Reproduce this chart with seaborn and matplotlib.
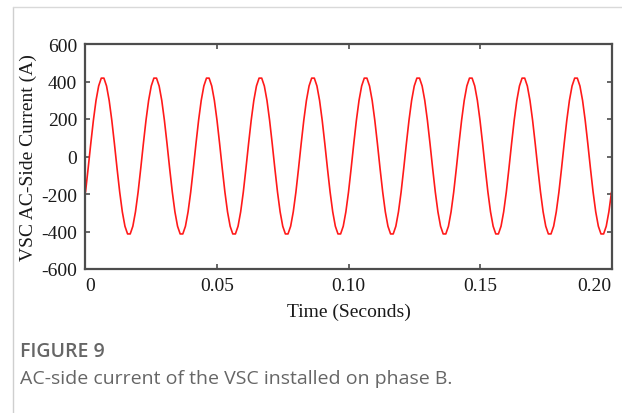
import numpy as np
import pandas as pd
import matplotlib
matplotlib.use("Agg")
import matplotlib.pyplot as plt
from matplotlib.lines import Line2D
import seaborn as sns

current_a = [
    -190, -64, 68, 193, 299, 376, 418, 418, 376, 299, 193, 68, -64, -189, -295, -372, -413, -413, -372, -295,
    -190, -64, 68, 193, 299, 376, 418, 418, 376, 299, 193, 68, -64, -189, -295, -372, -413, -413, -372, -295,
    -190, -64, 68, 193, 299, 376, 418, 418, 376, 299, 193, 68, -64, -189, -295, -372, -413, -413, -372, -295,
    -190, -64, 68, 193, 299, 376, 418, 418, 376, 299, 193, 68, -64, -189, -295, -372, -413, -413, -372, -295,
    -190, -64, 68, 193, 299, 376, 418, 418, 376, 299, 193, 68, -64, -189, -295, -372, -413, -413, -372, -295,
    -190, -64, 68, 193, 299, 376, 418, 418, 376, 299, 193, 68, -64, -189, -295, -372, -413, -413, -372, -295,
    -190, -64, 68, 193, 299, 376, 418, 418, 376, 299, 193, 68, -64, -189, -295, -372, -413, -413, -372, -295,
    -190, -64, 68, 193, 299, 376, 418, 418, 376, 299, 193, 68, -64, -189, -295, -372, -413, -413, -372, -295,
    -190, -64, 68, 193, 299, 376, 418, 418, 376, 299, 193, 68, -64, -189, -295, -372, -413, -413, -372, -295,
    -190, -64, 68, 193, 299, 376, 418, 418, 376, 299, 193, 68, -64, -189, -295, -372, -413, -413, -372, -295,
    -190,
]
time_s = np.linspace(0.0, 0.2, len(current_a))

x_ticks = [0, 0.05, 0.10, 0.15, 0.20]
x_tick_labels = ["0", "0.05", "0.10", "0.15", "0.20"]
y_ticks = [-600, -400, -200, 0, 200, 400, 600]
y_tick_labels = ["-600", "-400", "-200", "0", "200", "400", "600"]

df = pd.DataFrame({"Time": time_s, "Current": current_a})

sns.set_style("ticks")
plt.rcParams["font.family"] = ["Liberation Serif", "DejaVu Serif"]

fig = plt.figure(figsize=(6.22, 4.14), dpi=100)
ax = fig.add_axes([85.5 / 622, 1 - 270 / 414, 526 / 622, 225 / 414])

sns.lineplot(data=df, x="Time", y="Current", ax=ax, color="#ff1a1a", linewidth=1.2)

ax.set_xlim(0, 0.2)
ax.set_ylim(-600, 600)
ax.set_xticks(x_ticks)
ax.set_xticklabels(x_tick_labels)
ax.set_yticks(y_ticks)
ax.set_yticklabels(y_tick_labels)
xl = ax.get_xticklabels()
xl[0].set_horizontalalignment("left")
xl[-1].set_horizontalalignment("right")

spine_col = "#4d4d4d"
for s in ax.spines.values():
    s.set_visible(True)
    s.set_color(spine_col)
    s.set_linewidth(1.6)
ax.tick_params(direction="in", length=3.5, width=1.2, color=spine_col,
               top=True, right=True, labelsize=14, labelcolor="#1a1a1a", pad=6)

ax.set_xlabel("Time (Seconds)", fontsize=14, color="#1a1a1a", labelpad=6)
ax.set_ylabel("VSC AC-Side Current (A)", fontsize=14, color="#1a1a1a", labelpad=3)

# page frame lines from the journal layout
fig.add_artist(Line2D([12.5 / 622, 12.5 / 622], [1 - 8 / 414, 0], transform=fig.transFigure,
                      color="#cfcfcf", linewidth=1))
fig.add_artist(Line2D([12.5 / 622, 1], [1 - 8 / 414, 1 - 8 / 414], transform=fig.transFigure,
                      color="#d9d9d9", linewidth=1))

fig.text(20 / 622, 1 - 352 / 414, "FIGURE 9", family="Open Sans", fontweight="semibold",
         fontsize=14, color="#666666", va="center")
fig.text(20 / 622, 1 - 379 / 414, "AC-side current of the VSC installed on phase B.",
         family="Open Sans", fontsize=14, color="#666666", va="center")

fig.savefig("out.png", dpi=100)
